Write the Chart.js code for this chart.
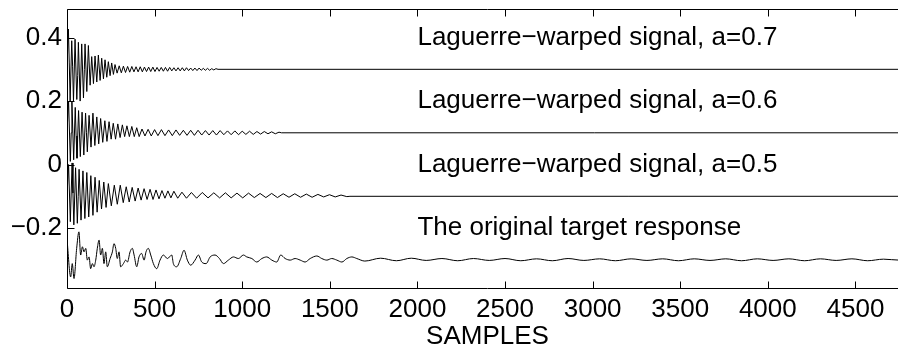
<!DOCTYPE html>
<html>
<head>
<meta charset="utf-8">
<title>Laguerre warping</title>
<script src="https://cdn.jsdelivr.net/npm/chart.js@4.4.0/dist/chart.umd.min.js"></script>
<style>
  html, body { margin: 0; padding: 0; background: #fff; overflow: hidden; }
  #wrap { width: 898px; height: 349px; overflow: hidden; }
</style>
</head>
<body>
<div id="wrap"><canvas id="sig" width="910" height="349"></canvas></div>
<script>
// each trace is [sample, amplitude] around its own vertical offset
let offsets = [0.3, 0.1, -0.1, -0.3]

let warp07 = [
  [0,0],[8,0.127],[13,0.02],[18,-0.10],[27,0.09],[32,0.01],[37,-0.10],[46,0.095],[56,-0.095],[61,-0.02],[65,0.085],[75,-0.10],[84,0.08],
  [94,-0.09],[99,0.0],[103,0.08],[113,-0.07],[122,0.075],[132,-0.05],[141,0.04],[151,-0.045],[160,0.042],[170,-0.04],[179,0.045],
  [189,-0.035],[198,0.035],[208,-0.03],[217,0.03],[227,-0.025],[236,0.024],[246,-0.02],[255,0.02],[265,-0.016],[274,0.015],
  [286,-0.012],[298,0.011],[310,-0.011],[322,0.010],[334,-0.010],[346,0.009],[358,-0.009],[370,0.009],[382,-0.008],[394,0.008],
  [406,-0.008],[418,0.008],[430,-0.008],[442,0.007],[454,-0.007],[466,0.007],[478,-0.007],[490,0.007],[502,-0.007],[514,0.006],
  [526,-0.006],[538,0.006],[550,-0.006],[562,0.006],[574,-0.006],[586,0.006],[598,-0.005],[610,0.005],[622,-0.005],[634,0.005],
  [646,-0.005],[658,0.005],[670,-0.005],[682,0.005],[694,-0.004],[706,0.004],[718,-0.004],[730,0.004],[742,-0.004],[754,0.004],
  [766,-0.003],[778,0.003],[790,-0.003],[802,0.003],[814,-0.003],[826,0.002],[838,-0.002],[850,0.002],
  [862,0],[4800,0]
]

let warp06 = [
  [0,0],[9,0.10],[19,-0.09],[24,0.0],[28,0.10],[38,-0.085],[47,0.08],[52,-0.01],[57,-0.08],[66,0.07],[76,-0.075],[86,0.065],
  [96,-0.07],[106,0.062],[111,0.0],[116,-0.06],[126,0.055],[137,-0.045],[148,0.062],[159,-0.04],[170,0.05],[181,-0.035],[192,0.045],
  [204,-0.03],[216,0.038],[228,-0.027],[240,0.035],[252,-0.02],[264,0.03],[277,-0.02],[290,0.028],[303,-0.015],[316,0.025],
  [329,-0.012],[342,0.022],[356,-0.012],[370,0.02],[384,-0.012],[398,0.016],[412,-0.012],
  [428,0.012],[445,-0.010],[463,0.011],[481,-0.010],[500,0.010],[519,-0.009],[539,0.010],[559,-0.009],[580,0.009],[601,-0.009],
  [622,0.009],[643,-0.008],[664,0.008],[685,-0.008],[706,0.008],[727,-0.008],[748,0.008],[769,-0.007],[790,0.007],[811,-0.007],
  [832,0.007],[853,-0.007],[874,0.007],[895,-0.006],[916,0.006],[937,-0.006],[958,0.006],[979,-0.006],[1000,0.005],[1021,-0.005],
  [1042,0.005],[1063,-0.005],[1084,0.004],[1105,-0.004],[1126,0.004],[1147,-0.003],[1168,0.003],[1189,-0.003],[1210,0.002],
  [1224,0],[4800,0]
]

let warp05 = [
  [0,0],[9,0.10],[19,-0.08],[29,0.105],[34,0.01],[39,-0.09],[49,0.09],[59,-0.085],[64,0.0],[69,0.085],[80,-0.075],[91,0.08],
  [102,-0.07],[113,0.075],[124,-0.065],[136,0.065],[148,-0.06],[160,0.06],[172,-0.05],[184,0.05],[197,-0.04],[210,0.045],
  [223,-0.035],[236,0.04],
  [253,-0.03],[270,0.035],[287,-0.025],[304,0.035],[321,-0.02],[338,0.03],[355,-0.018],[372,0.028],[389,-0.015],[406,0.026],
  [423,-0.012],[440,0.024],[457,-0.01],[474,0.022],[491,-0.01],[508,0.02],[525,-0.008],[542,0.018],[559,-0.006],[576,0.017],
  [593,-0.005],[610,0.016],
  [632,-0.006],[656,0.013],[682,-0.006],[710,0.012],[740,-0.006],[772,0.012],[805,-0.005],[838,0.011],[871,-0.005],[904,0.011],
  [937,-0.005],[970,0.010],[1003,-0.005],[1036,0.010],[1069,-0.004],[1102,0.009],[1135,-0.004],[1168,0.009],[1201,-0.004],[1234,0.008],
  [1267,-0.003],[1300,0.008],[1333,-0.003],[1366,0.007],[1399,-0.003],[1432,0.006],[1465,-0.002],[1498,0.005],[1531,-0.002],[1564,0.004],
  [1597,-0.001],
  [1615,0],[4800,0]
]

let original = [
  [0,0.065],[21,-0.054],[30,-0.012],[40,-0.059],[55,0.035],[68,0.088],[78,0.015],[88,0.041],[97,0.025],[107,0.036],
  [116,-0.001],[126,0.009],[135,-0.028],[145,-0.012],[154,-0.022],[164,-0.001],[173,0.036],[183,0.062],[192,0.015],[202,0.036],
  [211,-0.012],[221,0.025],[230,-0.022],[246,0.004],[259,0.025],[268,0.051],[278,0.036],[287,0.004],[297,0.025],[306,-0.022],
  [322,-0.012],[335,-0.001],[345,-0.007],[360,0.025],[373,0.036],[383,0.015],[398,-0.022],[411,0.009],[426,0.020],[440,-0.001],
  [451,0.025],[464,0.036],[478,0.015],[493,-0.012],[512,-0.028],[531,-0.001],[550,0.015],[573,0.004],[598,0.015],[607,-0.012],
  [626,-0.022],[649,0.004],[668,0.030],[687,-0.001],[706,-0.017],[731,-0.001],[750,0.015],[769,-0.007],[794,-0.012],[817,0.009],
  [845,0.015],[870,0.004],[893,-0.012],[921,-0.001],[950,0.009],[978,0.004],[1007,0.015],[1026,0.009],[1055,0.004],[1083,-0.007],
  [1112,0.004],[1140,0.009],[1169,-0.001],[1197,-0.007],[1220,0.015],[1245,0.004],[1274,-0.001],[1302,0.004],[1331,-0.001],[1359,-0.007],
  [1388,0.004],[1426,0.012],[1454,0.004],[1483,-0.001],[1511,0.004],[1540,-0.001],[1569,-0.007],[1597,0.004],[1626,0.009],[1654,0.004],
  [1700,-0.004],[1790,0.005],[1880,-0.003],[1965,0.005],[2050,-0.002],[2140,0.004],[2230,-0.003],[2320,0.004],[2410,-0.002],[2500,0.004],
  [2590,-0.003],[2680,0.003],[2770,-0.003],[2860,0.004],[2950,-0.002],[3040,0.003],[3130,-0.003],[3220,0.003],[3310,-0.002],[3400,0.003],
  [3490,-0.003],[3580,0.003],[3670,-0.002],[3760,0.003],[3850,-0.003],[3940,0.003],[4030,-0.002],[4120,0.003],[4210,-0.003],[4300,0.003],
  [4390,-0.002],[4480,0.003],[4570,-0.003],[4660,0.002],[4750,-0.001],[4800,0.001]
]

let traceLabels = [
  'Laguerre\u2212warped signal, a=0.7',
  'Laguerre\u2212warped signal, a=0.6',
  'Laguerre\u2212warped signal, a=0.5',
  'The original target response'
]
let labelX = 2000
let labelY = [0.4, 0.2, 0, -0.2]

let xTickValues = [0, 500, 1000, 1500, 2000, 2500, 3000, 3500, 4000, 4500]
let yTickValues = [-0.2, 0, 0.2, 0.4]

let fontFamily = '"Liberation Sans", Arial, Helvetica, sans-serif'
let tickLen = 7

function toPoints(trace, offset) {
  return trace.map(p => ({ x: p[0], y: offset + p[1] }))
}

// box, inward tick marks and the text next to each trace
const boxAndText = {
  id: 'boxAndText',
  afterDatasetsDraw(chart) {
    const { ctx, chartArea: a, scales: { x, y } } = chart
    const l = Math.round(a.left) + 0.5, r = Math.round(a.right) - 0.5
    const t = Math.round(a.top) + 0.5, b = Math.round(a.bottom) - 0.5
    ctx.save()
    ctx.strokeStyle = '#000'
    ctx.lineWidth = 1
    ctx.beginPath()
    ctx.rect(l, t, r - l, b - t)
    xTickValues.forEach(v => {
      const px = Math.round(x.getPixelForValue(v)) + 0.5
      ctx.moveTo(px, b); ctx.lineTo(px, b - tickLen)
      ctx.moveTo(px, t); ctx.lineTo(px, t + tickLen)
    })
    yTickValues.forEach(v => {
      const py = Math.round(y.getPixelForValue(v)) + 0.5
      ctx.moveTo(l, py); ctx.lineTo(l + tickLen, py)
      ctx.moveTo(r, py); ctx.lineTo(r - tickLen, py)
    })
    ctx.stroke()

    ctx.fillStyle = '#000'
    ctx.font = '26px ' + fontFamily
    ctx.textBaseline = 'middle'
    ctx.textAlign = 'left'
    traceLabels.forEach((txt, i) => {
      ctx.fillText(txt, x.getPixelForValue(labelX), y.getPixelForValue(labelY[i]))
    })
    ctx.restore()
  }
}

Chart.defaults.font.family = fontFamily
Chart.defaults.font.size = 26
Chart.defaults.color = '#000'

let traces = [warp07, warp06, warp05, original]

new Chart(document.getElementById('sig'), {
  type: 'line',
  data: {
    datasets: traces.map((tr, i) => ({
      data: toPoints(tr, offsets[i]),
      borderColor: '#000',
      borderWidth: 1,
      pointRadius: 0,
      tension: 0,
      cubicInterpolationMode: i === 3 ? 'monotone' : 'default'
    }))
  },
  options: {
    responsive: false,
    animation: false,
    devicePixelRatio: 1,
    layout: { padding: { top: 9, right: 2, left: 0, bottom: 0 } },
    plugins: { legend: { display: false }, tooltip: { enabled: false } },
    scales: {
      x: {
        type: 'linear',
        min: 0,
        max: 4800,
        grid: { display: false, drawTicks: false },
        border: { display: false },
        afterFit(s) {
          s.height = 60
          s.paddingLeft = 0
          s.paddingRight = 0
        },
        afterBuildTicks(s) { s.ticks = xTickValues.map(v => ({ value: v })) },
        ticks: { autoSkip: false, maxRotation: 0, padding: 5, callback: v => String(v) },
        title: {
          display: true,
          text: 'SAMPLES',
          font: { size: 26, lineHeight: 0.9 },
          padding: { top: 0, bottom: 0 }
        }
      },
      y: {
        type: 'linear',
        min: -0.392,
        max: 0.49,
        grid: { display: false, drawTicks: false },
        border: { display: false },
        afterFit(s) {
          s.width = 67
          s.paddingTop = 0
          s.paddingBottom = 0
        },
        afterBuildTicks(s) { s.ticks = yTickValues.map(v => ({ value: v })) },
        ticks: { padding: 5, callback: v => String(v).replace('-', '\u2212') }
      }
    }
  },
  plugins: [boxAndText]
})
</script>
</body>
</html>
